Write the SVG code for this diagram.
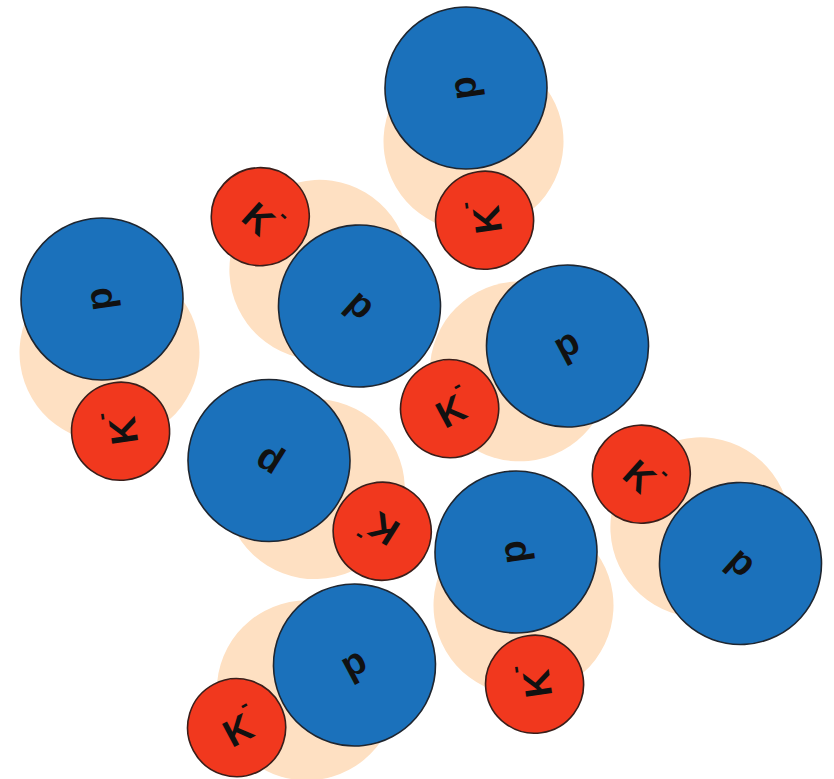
<svg xmlns="http://www.w3.org/2000/svg" width="834" height="779" viewBox="0 0 834 779">
<style>
.halo{fill:#FEE0C2;stroke:none}
.p{fill:#1B71BB;stroke:#1f2630;stroke-width:1.6}
.k{fill:#F1381E;stroke:#3a1e1a;stroke-width:1.6}
.lbl{font-family:"Liberation Sans",Arial,sans-serif;font-weight:bold;font-size:38px;fill:#111;text-anchor:middle}
.sup{font-size:22px}
</style>
<rect width="834" height="779" fill="#ffffff"/>
<defs>
<g id="pair">
<circle class="halo" cx="-54" cy="0" r="90"/>
<circle class="p" cx="0" cy="0" r="81"/>
<circle class="k" cx="-133.5" cy="0" r="49"/>
<text class="lbl" x="0" y="10">p</text>
<text class="lbl"><tspan x="-133.5" y="16">K</tspan><tspan class="sup" x="-116.5" y="-10">-</tspan></text>
</g>
</defs>
<g id="pair1" transform="translate(466,88) rotate(-98)"><use href="#pair"/></g>
<g id="pair2" transform="translate(359.5,306) rotate(42)"><use href="#pair"/></g>
<g id="pair3" transform="translate(102,299) rotate(-98)"><use href="#pair"/></g>
<g id="pair4" transform="translate(567.5,346) rotate(-28)"><use href="#pair"/></g>
<g id="pair5" transform="translate(269,460.5) rotate(-148)"><use href="#pair"/></g>
<g id="pair6" transform="translate(740.5,563.5) rotate(42)"><use href="#pair"/></g>
<g id="pair7" transform="translate(516,552) rotate(-98)"><use href="#pair"/></g>
<g id="pair8" transform="translate(354.5,665) rotate(-28)"><use href="#pair"/></g>
</svg>
